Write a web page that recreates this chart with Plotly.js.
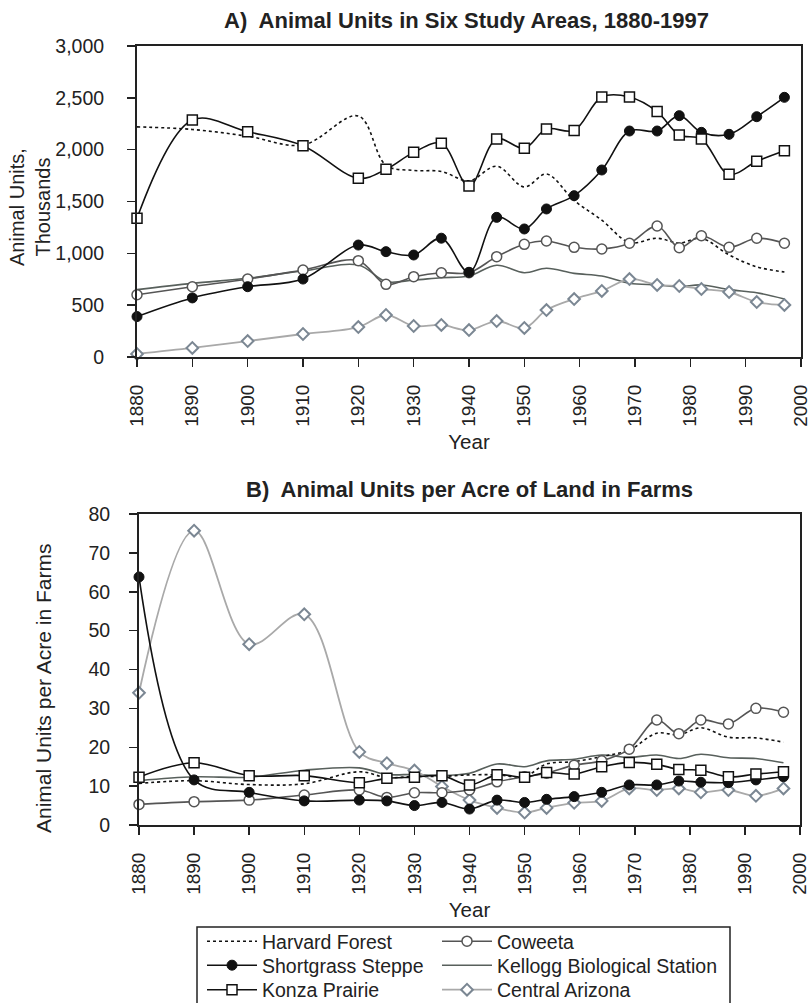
<!DOCTYPE html>
<html>
<head>
<meta charset="utf-8">
<script src="https://cdn.plot.ly/plotly-3.0.1.min.js"></script>
<style>
  html, body { margin: 0; padding: 0; background: #ffffff; overflow: hidden; }
  #chart { width: 810px; height: 1003px; }
</style>
</head>
<body>
<div id="chart"></div>
<script>
// ---- Data ----
const years = [1880,1890,1900,1910,1920,1925,1930,1935,1940,1945,1950,1954,1959,1964,1969,1974,1978,1982,1987,1992,1997];

// Panel A: animal units, thousands
const harvardA = [2220,2195,2130,2045,2325,1850,1800,1790,1700,1840,1640,1765,1510,1320,1105,1145,1100,1145,985,870,820];
const shortgrassA = [390,570,678,752,1080,1016,984,1146,817,1347,1235,1428,1556,1804,2180,2180,2328,2167,2148,2318,2505];
const konzaA = [1338,2286,2173,2038,1724,1810,1974,2061,1649,2103,2013,2199,2186,2508,2508,2367,2141,2103,1762,1888,1990];
const coweetaA = [600,678,752,839,929,701,775,813,813,968,1087,1119,1058,1042,1097,1264,1055,1170,1058,1145,1097];
const kelloggA = [650,710,760,830,887,727,743,765,781,885,813,856,807,781,711,695,678,695,650,620,560];
const arizonaA = [29,87,154,222,289,405,299,309,260,347,280,453,559,637,752,695,685,656,627,530,502];

// Panel B: animal units per acre in farms
const harvardB = [10.7,11.4,10.4,10.6,13.7,12.2,12.5,12.5,12.9,12.9,12.5,15.7,16.3,17.6,19.3,23.6,23.2,25.0,22.6,22.4,21.3];
const shortgrassB = [63.8,11.6,8.4,6.2,6.4,6.2,5.0,5.8,4.1,6.4,5.8,6.6,7.3,8.4,10.3,10.3,11.3,11.0,10.9,11.6,12.4];
const konzaB = [12.3,16.0,12.7,12.7,10.9,12.0,12.3,12.7,10.3,12.9,12.3,13.5,13.1,15.0,16.1,15.6,14.3,14.1,12.4,13.1,13.7];
const coweetaB = [5.3,6.0,6.4,7.7,9.0,7.1,8.3,8.3,9.0,11.1,12.4,13.3,15.4,16.5,19.5,27.0,23.5,27.0,26.0,30.0,29.0];
const kelloggB = [11.4,12.4,12.3,14.1,14.7,13.0,13.0,12.7,13.3,15.7,15.0,16.5,16.9,18.0,17.4,18.0,17.1,18.2,17.3,17.1,16.0];
const arizonaB = [34.0,75.7,46.5,54.2,18.8,15.9,14.0,9.9,6.4,4.4,3.2,4.4,5.7,6.2,9.4,9.0,9.4,8.4,9.0,7.5,9.4];

const seriesNames = ["Harvard Forest","Shortgrass Steppe","Konza Prairie","Coweeta","Kellogg Biological Station","Central Arizona"];
const titleA = "A)\u00a0 Animal Units in Six Study Areas, 1880-1997";
const titleB = "B)\u00a0 Animal Units per Acre of Land in Farms";
const yTitleA = "Animal Units,<br>Thousands";
const yTitleB = "Animal Units per Acre in Farms";
const xTitle = "Year";

// ---- Styles ----
const FONT = "Liberation Sans, Arial, Helvetica, sans-serif";
const INK = "#222";
const styles = [
  {line:{color:"#111", width:1.6, dash:"dot", shape:"spline", smoothing:1}, mode:"lines"},
  {line:{color:"#111", width:1.6, shape:"spline", smoothing:1}, mode:"lines+markers",
   marker:{symbol:"circle", size:10, color:"#111", line:{color:"#111", width:1}}},
  {line:{color:"#111", width:1.6, shape:"spline", smoothing:1}, mode:"lines+markers",
   marker:{symbol:"square", size:10, color:"#fff", line:{color:"#111", width:1.5}}},
  {line:{color:"#555", width:1.6, shape:"spline", smoothing:1}, mode:"lines+markers",
   marker:{symbol:"circle", size:10, color:"#fff", line:{color:"#555", width:1.5}}},
  {line:{color:"#58605c", width:1.6, shape:"spline", smoothing:1}, mode:"lines"},
  {line:{color:"#a9a9a9", width:1.8, shape:"spline", smoothing:1}, mode:"lines+markers",
   marker:{symbol:"diamond", size:9, color:"#fff", line:{color:"#7b8793", width:2}}}
];
const legendIds = ["legend","legend2","legend3","legend4","legend5","legend6"];

const dataA = [harvardA, shortgrassA, konzaA, coweetaA, kelloggA, arizonaA];
const dataB = [harvardB, shortgrassB, konzaB, coweetaB, kelloggB, arizonaB];
const order = [4, 0, 5, 3, 1, 2]; // back to front

const traces = [];
order.forEach(i => {
  traces.push(Object.assign({}, styles[i], {
    x: years, y: dataA[i], name: seriesNames[i], legendgroup: "g"+i,
    showlegend: false, xaxis: "x", yaxis: "y", cliponaxis: false, hoverinfo: "skip"
  }));
});
order.forEach(i => {
  traces.push(Object.assign({}, styles[i], {
    x: years, y: dataB[i], name: seriesNames[i], legendgroup: "g"+i, legend: legendIds[i],
    showlegend: true, xaxis: "x2", yaxis: "y2", cliponaxis: false, hoverinfo: "skip"
  }));
});

const W = 810, H = 1003;
const px = v => v / W;
const py = v => 1 - v / H;

const axisCommon = {
  showline: true, linewidth: 2, linecolor: INK, mirror: true,
  showgrid: false, zeroline: false, ticks: "outside", ticklen: 8, tickwidth: 1.5, tickcolor: INK,
  automargin: false
};
const xTickFont = {family: FONT, size: 19, color: INK};
const yTickFont = {family: FONT, size: 19.5, color: INK};
const axTitleFont = {family: FONT, size: 20.5, color: INK};

const layout = {
  width: W, height: H,
  margin: {l: 0, r: 0, t: 0, b: 0, autoexpand: false},
  paper_bgcolor: "#fff", plot_bgcolor: "#fff",
  font: {family: FONT, size: 19, color: INK},
  showlegend: true,
  xaxis: Object.assign({}, axisCommon, {
    domain: [px(137), px(801)], anchor: "y", range: [1880, 2000], tick0: 1880, dtick: 10,
    tickangle: -90, ticklabelstandoff: 10, ticklabeloverflow: "allow", tickfont: xTickFont,
    title: {text: xTitle, font: axTitleFont, standoff: 9}
  }),
  yaxis: Object.assign({}, axisCommon, {
    domain: [py(357), py(46)], anchor: "x", range: [0, 3000], dtick: 500, tickformat: ",d",
    ticklabelstandoff: 19, ticklabeloverflow: "allow", tickfont: yTickFont
  }),
  xaxis2: Object.assign({}, axisCommon, {
    domain: [px(139), px(800)], anchor: "y2", range: [1880, 2000], tick0: 1880, dtick: 10,
    tickangle: -90, ticklabelstandoff: 10, ticklabeloverflow: "allow", tickfont: xTickFont,
    title: {text: xTitle, font: axTitleFont, standoff: 9}
  }),
  yaxis2: Object.assign({}, axisCommon, {
    domain: [py(825), py(514)], anchor: "x2", range: [0, 80], dtick: 10,
    ticklabelstandoff: 15, ticklabeloverflow: "allow", tickfont: yTickFont
  }),
  shapes: [
    {type: "rect", xref: "paper", yref: "paper", x0: px(197), x1: px(730), y0: py(1012), y1: py(927),
     line: {color: INK, width: 1.5}, fillcolor: "rgba(0,0,0,0)"}
  ],
  annotations: [
    {text: titleA, xref: "paper", yref: "paper", x: px(466), y: py(20), xanchor: "center", yanchor: "middle",
     showarrow: false, font: {family: FONT, size: 22, color: INK, weight: "bold"}},
    {text: titleB, xref: "paper", yref: "paper", x: px(469), y: py(490), xanchor: "center", yanchor: "middle",
     showarrow: false, font: {family: FONT, size: 22, color: INK, weight: "bold"}},
    {text: yTitleA, xref: "paper", yref: "paper", x: px(30), y: py(207), xanchor: "center", yanchor: "middle",
     textangle: -90, showarrow: false, font: {family: FONT, size: 20, color: INK}},
    {text: yTitleB, xref: "paper", yref: "paper", x: px(43), y: py(689), xanchor: "center", yanchor: "middle",
     textangle: -90, showarrow: false, font: {family: FONT, size: 21, color: INK}}
  ]
};

// one legend per entry so that each sits at its own place in the boxed 2-column key
const legendX = [202, 202, 202, 437, 437, 437];
const legendY = [941.5, 965.5, 990, 941.5, 965.5, 990];
legendIds.forEach((id, i) => {
  layout[id] = {
    x: px(legendX[i]), xanchor: "left", y: py(legendY[i]), yanchor: "middle",
    bgcolor: "rgba(0,0,0,0)", borderwidth: 0, font: {family: FONT, size: 19.5, color: INK},
    tracegroupgap: 0, itemwidth: 50
  };
});

Plotly.newPlot("chart", traces, layout, {staticPlot: true, displayModeBar: false});
</script>
</body>
</html>
